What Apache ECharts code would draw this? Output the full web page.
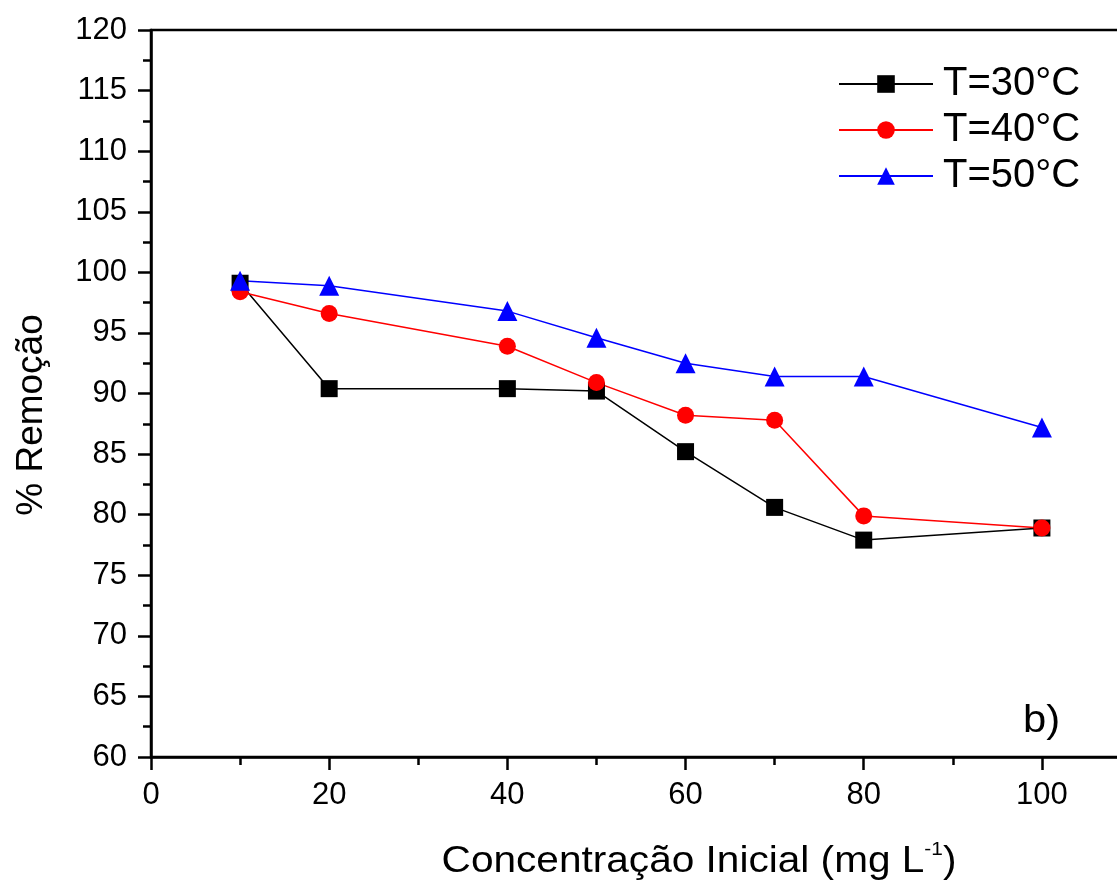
<!DOCTYPE html>
<html>
<head>
<meta charset="utf-8">
<script src="https://cdn.jsdelivr.net/npm/echarts@6/dist/echarts.min.js"></script>
<style>
html,body{margin:0;padding:0;background:#fff;overflow:hidden;}
#chart{width:1117px;height:881px;}
</style>
</head>
<body>
<div id="chart"></div>
<script>
const concentrations = [10, 20, 40, 50, 60, 70, 80, 100];
const t30 = [99.1, 90.4, 90.4, 90.2, 85.2, 80.6, 77.9, 78.9];
const t40 = [98.4, 96.6, 93.9, 90.9, 88.2, 87.8, 79.9, 78.9];
const t50 = [99.3, 98.9, 96.8, 94.6, 92.5, 91.4, 91.4, 87.2];
const seriesNames = ['T=30°C', 'T=40°C', 'T=50°C'];
const xTitle = 'Concentração Inicial (mg L';
const yTitle = '% Remoção';
const panelLabel = 'b)';

const font = 'Liberation Sans, Arial, sans-serif';
function pairs(vals){ return concentrations.map((c,i)=>[c, vals[i]]); }

const chart = echarts.init(document.getElementById('chart'));
chart.setOption({
  backgroundColor: '#fff',
  animation: false,
  grid: {left: 151, right: -14, top: 30, bottom: 124, outerBoundsMode: 'none', containLabel: false,
    show: true, borderColor: '#000', borderWidth: 2.5, backgroundColor: 'transparent'},
  legend: {
    left: 838, top: 64, padding: 0, orient: 'vertical', itemWidth: 94, itemHeight: 22, itemGap: 6,
    textStyle: {fontFamily: font, fontSize: 40, lineHeight: 40, color: '#000', padding: [0,0,0,5]},
    data: seriesNames
  },
  xAxis: {
    type: 'value', min: 0, max: 110, interval: 20,
    axisLine: {show: true, lineStyle: {color: '#000', width: 2.5}},
    axisTick: {show: true, inside: false, length: 13, lineStyle: {color: '#000', width: 2.5}},
    minorTick: {show: true, splitNumber: 2, length: 8, lineStyle: {color: '#000', width: 2.5}},
    splitLine: {show: false},
    axisLabel: {fontFamily: font, fontSize: 31, color: '#000', margin: 23, showMaxLabel: false,
      formatter: v => v > 100 ? '' : String(v)}
  },
  yAxis: {
    type: 'value', min: 60, max: 120, interval: 5,
    axisLine: {show: true, lineStyle: {color: '#000', width: 2.5}},
    axisTick: {show: true, inside: false, length: 13, lineStyle: {color: '#000', width: 2.5}},
    minorTick: {show: true, splitNumber: 2, length: 8, lineStyle: {color: '#000', width: 2.5}},
    splitLine: {show: false},
    axisLabel: {fontFamily: font, fontSize: 31, color: '#000', margin: 24}
  },
  graphic: [
    {type: 'text', x: 1023, y: 722, scaleX: 1.1,
      style: {text: panelLabel, fontFamily: font, fontSize: 38, fill: '#000', align: 'left', verticalAlign: 'middle'}},
    {type: 'text', x: 32, y: 415, rotation: Math.PI / 2,
      style: {text: yTitle, fontFamily: font, fontSize: 37, fill: '#000', align: 'center', verticalAlign: 'middle'}},
    {type: 'text', x: 699, y: 862, scaleX: 1.097,
      style: {text: '{a|' + xTitle + '}{s|-1}{a|)}', align: 'center', verticalAlign: 'middle',
        rich: {
          a: {fontFamily: font, fontSize: 37, lineHeight: 44, fill: '#000'},
          s: {fontFamily: font, fontSize: 19, lineHeight: 19, fill: '#000', verticalAlign: 'top'}
        }}}
  ],
  series: [
    {name: seriesNames[0], type: 'line', data: pairs(t30), symbol: 'rect', symbolSize: 17,
      itemStyle: {color: '#000'}, lineStyle: {color: '#000', width: 1.5}},
    {name: seriesNames[1], type: 'line', data: pairs(t40), symbol: 'circle', symbolSize: 17,
      itemStyle: {color: '#ff0000'}, lineStyle: {color: '#ff0000', width: 1.5}},
    {name: seriesNames[2], type: 'line', data: pairs(t50), symbol: 'triangle', symbolSize: 20,
      itemStyle: {color: '#0000ff'}, lineStyle: {color: '#0000ff', width: 1.5}}
  ]
});
</script>
</body>
</html>
